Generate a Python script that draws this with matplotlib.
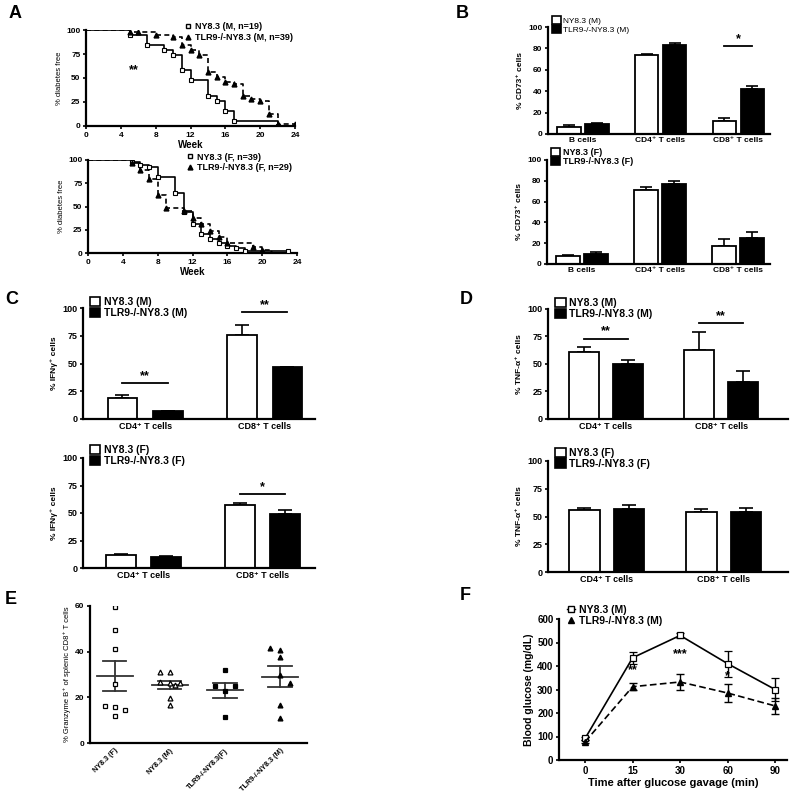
import matplotlib
matplotlib.use('Agg')
import matplotlib.pyplot as plt
from matplotlib.patches import Patch
from matplotlib.lines import Line2D
import numpy as np

plt.rcParams['font.family'] = ['Liberation Sans', 'DejaVu Sans']
plt.rcParams['font.weight'] = 'bold'
plt.rcParams['axes.labelweight'] = 'bold'
plt.rcParams['axes.linewidth'] = 1.6
plt.rcParams['xtick.major.width'] = 1.2
plt.rcParams['ytick.major.width'] = 1.2
plt.rcParams['xtick.major.size'] = 2.5
plt.rcParams['ytick.major.size'] = 2.5
plt.rcParams['xtick.major.pad'] = 1.5
plt.rcParams['ytick.major.pad'] = 1.5

# ---------------- DATA ----------------
# A: survival (week, % diabetes free)
a_m_ny_t = [0, 5, 7, 9, 10, 11, 12, 14, 15, 16, 17, 22]
a_m_ny_s = [100, 94.7, 84.2, 78.9, 73.7, 57.9, 47.4, 31.6, 26.3, 15.8, 5.3, 0]
a_m_tlr_t = [0, 5, 6, 8, 10, 11, 12, 13, 14, 15, 16, 17, 18, 19, 20, 21, 22, 24]
a_m_tlr_s = [100, 97.4, 97.4, 94.9, 92.3, 84.6, 79.5, 74.4, 56.4, 51.3, 46.2, 43.6,
             30.8, 28.2, 25.6, 12.8, 2.6, 2.6]
a_f_ny_t = [0, 5, 6, 7, 8, 10, 11, 12, 13, 14, 15, 16, 17, 18, 23]
a_f_ny_s = [100, 97.4, 94.9, 92.3, 82.1, 64.1, 43.6, 30.8, 20.5, 15.4, 10.3, 7.7, 5.1, 2.6, 2.6]
a_f_tlr_t = [0, 5, 6, 7, 8, 9, 11, 12, 13, 14, 15, 16, 19, 20, 21]
a_f_tlr_s = [100, 96.6, 89.7, 79.3, 62.1, 48.3, 44.8, 37.9, 31.0, 24.1, 17.2, 10.3, 6.9, 3.4, 0]
a_top_labels = ['NY8.3 (M, n=19)', 'TLR9-/-NY8.3 (M, n=39)']
a_bot_labels = ['NY8.3 (F, n=39)', 'TLR9-/-NY8.3 (F, n=29)']

# B: % CD73+ cells
b_cats = ['B cells', 'CD4⁺ T cells', 'CD8⁺ T cells']
b_m_ny = [7, 74, 12]
b_m_ny_err = [1.5, 1, 3]
b_m_tlr = [9, 83, 42]
b_m_tlr_err = [1, 2, 3]
b_f_ny = [8, 71, 17]
b_f_ny_err = [1, 3, 7]
b_f_tlr = [10, 77, 25]
b_f_tlr_err = [1.5, 3, 6]

# C: % IFNγ+ cells
cd_cats = ['CD4⁺ T cells', 'CD8⁺ T cells']
c_m_ny = [19, 76]
c_m_ny_err = [3, 9]
c_m_tlr = [7, 47]
c_m_tlr_err = [0, 0]
c_f_ny = [12, 57]
c_f_ny_err = [0.5, 2]
c_f_tlr = [10, 49]
c_f_tlr_err = [1, 4]

# D: % TNF-α+ cells
d_m_ny = [61, 63]
d_m_ny_err = [4, 16]
d_m_tlr = [50, 34]
d_m_tlr_err = [4, 10]
d_f_ny = [56, 54]
d_f_ny_err = [2, 3]
d_f_tlr = [57, 54]
d_f_tlr_err = [3, 4]

# E: % Granzyme B+ of splenic CD8+ T cells
e_cats = ['NY8.3 (F)', 'NY8.3 (M)', 'TLR9-/-NY8.3(F)', 'TLR9-/-NY8.3 (M)']
e_vals = [
    [59.4, 49.5, 41.2, 26.0, 16.3, 15.6, 14.6, 12.0],
    [31.3, 30.9, 26.5, 26.2, 26.2, 25.5, 19.7, 16.7],
    [32.0, 24.8, 24.8, 22.6, 11.6],
    [41.5, 40.8, 37.6, 29.6, 26.2, 16.7, 10.9],
]

# F: blood glucose
f_times = ['0', '15', '30', '60', '90']
f_ny = [92, 435, 530, 410, 300]
f_ny_err = [8, 25, 10, 55, 50]
f_tlr = [78, 312, 332, 285, 230]
f_tlr_err = [6, 15, 35, 38, 35]
f_labels = ['NY8.3 (M)', 'TLR9-/-NY8.3 (M)']

# ---------------- LAYOUT ----------------
W, H = 800, 797
fig = plt.figure(figsize=(W / 100, H / 100), dpi=100)


def add_ax(l, t, r, b):
    return fig.add_axes([l / W, 1 - b / H, (r - l) / W, (b - t) / H])


def style(ax, fs=6):
    ax.spines['top'].set_visible(False)
    ax.spines['right'].set_visible(False)
    ax.tick_params(labelsize=fs)
    for lab in ax.get_xticklabels() + ax.get_yticklabels():
        lab.set_fontweight('bold')


# ---- A ----
def survival(ax, t1, s1, t2, s2, labels, stars=None):
    ax.step(t1, s1, where='post', color='black', lw=1.2, zorder=3)
    ax.plot(t1[1:], s1[1:], ls='none', marker='s', ms=3.5, mfc='white',
            mec='black', mew=0.8, zorder=4)
    ax.step(t2, s2, where='post', color='black', lw=1.2, ls=(0, (3, 2)), zorder=3)
    ax.plot(t2[1:], s2[1:], ls='none', marker='^', ms=3.5, color='black', zorder=4)
    ax.set_xlim(0, 24)
    ax.set_ylim(0, 100)
    ax.set_xticks(range(0, 25, 4))
    ax.set_yticks([0, 25, 50, 75, 100])
    ax.set_ylabel('% diabetes free', fontsize=5.5, fontweight='normal', labelpad=2)
    ax.set_xlabel('Week', fontsize=7, labelpad=1)
    style(ax, 6)
    h = [Line2D([], [], ls='none', marker='s', ms=3.5, mfc='white', mec='black'),
         Line2D([], [], ls='none', marker='^', ms=3.5, color='black')]
    ax.legend(h, labels, loc='upper left', bbox_to_anchor=(0.47, 1.08), frameon=False,
              fontsize=6.5, handlelength=0.8, handletextpad=0.4, labelspacing=0.15,
              borderpad=0, borderaxespad=0)
    if stars:
        ax.text(stars[0], stars[1], stars[2], fontsize=9, ha='center', va='center')


axA1 = add_ax(86, 30, 295, 126)
survival(axA1, a_m_ny_t, a_m_ny_s, a_m_tlr_t, a_m_tlr_s, a_top_labels, (5.5, 58, '**'))
axA2 = add_ax(88, 160, 297, 253)
survival(axA2, a_f_ny_t, a_f_ny_s, a_f_tlr_t, a_f_tlr_s, a_bot_labels)


# ---- bar panels ----
def bars(ax, cats, ny, ny_err, tlr, tlr_err, labels, ylabel, width, off, xlim,
         sig=None, legend_anchor=(0.02, 1.1), fs=6, lfs=6.5, cap=4):
    x = np.arange(len(cats))
    ax.bar(x - off, ny, width, color='white', edgecolor='black', lw=1.3, zorder=2)
    ax.bar(x + off, tlr, width, color='black', edgecolor='black', lw=1.3, zorder=2)
    ax.errorbar(x - off, ny, yerr=[np.zeros(len(ny)), ny_err], fmt='none',
                ecolor='black', elinewidth=1.2, capsize=cap, capthick=1.2, zorder=1)
    ax.errorbar(x + off, tlr, yerr=[np.zeros(len(tlr)), tlr_err], fmt='none',
                ecolor='black', elinewidth=1.2, capsize=cap, capthick=1.2, zorder=1)
    ax.set_xlim(*xlim)
    ax.set_xticks(x)
    ax.set_xticklabels(cats)
    ax.tick_params(axis='x', length=0, pad=2)
    style(ax, fs)
    ax.set_ylabel(ylabel, fontsize=6, labelpad=3)
    h = [Patch(facecolor='white', edgecolor='black', lw=1.2),
         Patch(facecolor='black', edgecolor='black', lw=1.2)]
    ax.legend(h, labels, loc='upper left', bbox_to_anchor=legend_anchor, frameon=False,
              fontsize=lfs, handlelength=1.0, handleheight=1.0, handletextpad=0.3,
              labelspacing=0.05, borderpad=0, borderaxespad=0)
    if sig:
        for gi, yv, st in sig:
            ax.plot([gi - off, gi + off], [yv, yv], color='black', lw=1.3)
            ax.text(gi, yv + 1, st, ha='center', va='bottom', fontsize=9)


axB1 = add_ax(548, 27, 770, 134)
bars(axB1, b_cats, b_m_ny, b_m_ny_err, b_m_tlr, b_m_tlr_err,
     ['NY8.3 (M)', 'TLR9-/-NY8.3 (M)'], '% CD73⁺ cells', 0.3, 0.18, (-0.45, 2.41),
     sig=[(2, 82, '*')], legend_anchor=(0.02, 1.1), lfs=6)
axB1.set_ylim(0, 100)
axB1.set_yticks([0, 20, 40, 60, 80, 100])
for l in axB1.get_legend().get_texts():
    l.set_fontweight('normal')

axB2 = add_ax(547, 160, 770, 264)
bars(axB2, b_cats, b_f_ny, b_f_ny_err, b_f_tlr, b_f_tlr_err,
     ['NY8.3 (F)', 'TLR9-/-NY8.3 (F)'], '% CD73⁺ cells', 0.3, 0.18, (-0.45, 2.41),
     legend_anchor=(0.02, 1.12), lfs=6.5)
axB2.set_ylim(0, 100)
axB2.set_yticks([0, 20, 40, 60, 80, 100])

axC1 = add_ax(83, 308, 315, 419)
bars(axC1, cd_cats, c_m_ny, c_m_ny_err, c_m_tlr, c_m_tlr_err,
     ['NY8.3 (M)', 'TLR9-/-NY8.3 (M)'], '% IFNγ⁺ cells', 0.25, 0.19, (-0.52, 1.42),
     sig=[(0, 32, '**'), (1, 96, '**')], legend_anchor=(0.03, 1.1), fs=6.5, lfs=7.5, cap=5)
axC1.set_ylim(0, 100)
axC1.set_yticks([0, 25, 50, 75, 100])

axC2 = add_ax(83, 458, 315, 568)
bars(axC2, cd_cats, c_f_ny, c_f_ny_err, c_f_tlr, c_f_tlr_err,
     ['NY8.3 (F)', 'TLR9-/-NY8.3 (F)'], '% IFNγ⁺ cells', 0.25, 0.19, (-0.51, 1.44),
     sig=[(1, 67, '*')], legend_anchor=(0.03, 1.12), fs=6.5, lfs=7.5, cap=5)
axC2.set_ylim(0, 100)
axC2.set_yticks([0, 25, 50, 75, 100])

axD1 = add_ax(548, 309, 788, 419)
bars(axD1, cd_cats, d_m_ny, d_m_ny_err, d_m_tlr, d_m_tlr_err,
     ['NY8.3 (M)', 'TLR9-/-NY8.3 (M)'], '% TNF-α⁺ cells', 0.26, 0.19, (-0.5, 1.58),
     sig=[(0, 73, '**'), (1, 87, '**')], legend_anchor=(0.03, 1.1), fs=6.5, lfs=7.5, cap=5)
axD1.set_ylim(0, 100)
axD1.set_yticks([0, 25, 50, 75, 100])

axD2 = add_ax(548, 461, 788, 572)
bars(axD2, cd_cats, d_f_ny, d_f_ny_err, d_f_tlr, d_f_tlr_err,
     ['NY8.3 (F)', 'TLR9-/-NY8.3 (F)'], '% TNF-α⁺ cells', 0.26, 0.19, (-0.5, 1.55),
     legend_anchor=(0.03, 1.12), fs=6.5, lfs=7.5, cap=5)
axD2.set_ylim(0, 100)
axD2.set_yticks([0, 25, 50, 75, 100])

# ---- E ----
axE = add_ax(90, 606, 307, 743)
e_markers = [dict(marker='s', mfc='white', mec='black'),
             dict(marker='^', mfc='white', mec='black'),
             dict(marker='s', mfc='black', mec='black'),
             dict(marker='^', mfc='black', mec='black')]
e_offsets = [[0, 0, 0, 0, -0.18, 0, 0.18, 0],
             [-0.18, 0, -0.18, 0, 0.18, 0.09, 0, 0],
             [0, -0.18, 0.18, 0, 0],
             [-0.18, 0, 0, 0, 0.18, 0, 0]]
for i, vals in enumerate(e_vals):
    v = np.array(vals)
    xs = i + np.array(e_offsets[i])
    axE.plot(xs, v, ls='none', ms=3.5, mew=0.9, zorder=3, **e_markers[i])
    m = v.mean()
    sem = v.std(ddof=1) / np.sqrt(len(v))
    axE.plot([i - 0.33, i + 0.33], [m, m], color='#333333', lw=1.3, zorder=2)
    axE.plot([i - 0.21, i + 0.21], [m + sem, m + sem], color='#333333', lw=1.3, zorder=2)
    axE.plot([i - 0.21, i + 0.21], [m - sem, m - sem], color='#333333', lw=1.3, zorder=2)
    axE.plot([i, i], [m - sem, m + sem], color='#333333', lw=1.3, zorder=2)
axE.set_xlim(-0.45, 3.49)
axE.set_ylim(0, 60)
axE.set_yticks([0, 20, 40, 60])
axE.set_xticks(range(len(e_cats)))
axE.set_xticklabels(e_cats, rotation=45, ha='right', rotation_mode='anchor')
axE.tick_params(axis='x', length=0, pad=3)
style(axE, 6)
axE.tick_params(axis='x', labelsize=5.2)
axE.set_ylabel('% Granzyme B⁺ of splenic CD8⁺ T cells', fontsize=5.5,
               fontweight='normal', labelpad=3)

# ---- F ----
axF = add_ax(559, 619, 787, 760)
xf = np.arange(len(f_times))
axF.errorbar(xf, f_ny, yerr=f_ny_err, color='black', lw=1.2, marker='s', ms=4.5,
             mfc='white', mec='black', mew=0.9, capsize=3, capthick=1, elinewidth=1)
axF.errorbar(xf, f_tlr, yerr=f_tlr_err, color='black', lw=1.2, ls=(0, (4, 2)),
             marker='^', ms=4.5, mfc='black', capsize=3, capthick=1, elinewidth=1)
axF.set_xlim(-0.55, 4.25)
axF.set_ylim(0, 600)
axF.set_yticks(range(0, 601, 100))
axF.set_xticks(xf)
axF.set_xticklabels(f_times)
style(axF, 7)
axF.set_xlabel('Time after glucose gavage (min)', fontsize=8, labelpad=2)
axF.set_ylabel('Blood glucose (mg/dL)', fontsize=7.5, labelpad=2)
for xs_, ys_, st in [(1, 355, '**'), (2, 425, '***'), (3, 330, '*')]:
    axF.text(xs_, ys_, st, ha='center', va='bottom', fontsize=9)
hF = [Line2D([], [], color='black', lw=1, marker='s', ms=4, mfc='white', mec='black'),
      Line2D([], [], ls='none', marker='^', ms=4, color='black')]
axF.legend(hF, f_labels, loc='upper left', bbox_to_anchor=(0.035, 1.1), frameon=False,
           fontsize=7.5, handlelength=0.8, handletextpad=0.4, labelspacing=0.1,
           borderpad=0, borderaxespad=0)

# panel letters
for lab, x, y in [('A', 15, 14), ('B', 462, 13), ('C', 12, 300), ('D', 466, 300),
                  ('E', 11, 600), ('F', 465, 596)]:
    fig.text(x / W, 1 - y / H, lab, fontsize=13, fontweight='bold', ha='center', va='center')

fig.savefig('out.png', dpi=100)
